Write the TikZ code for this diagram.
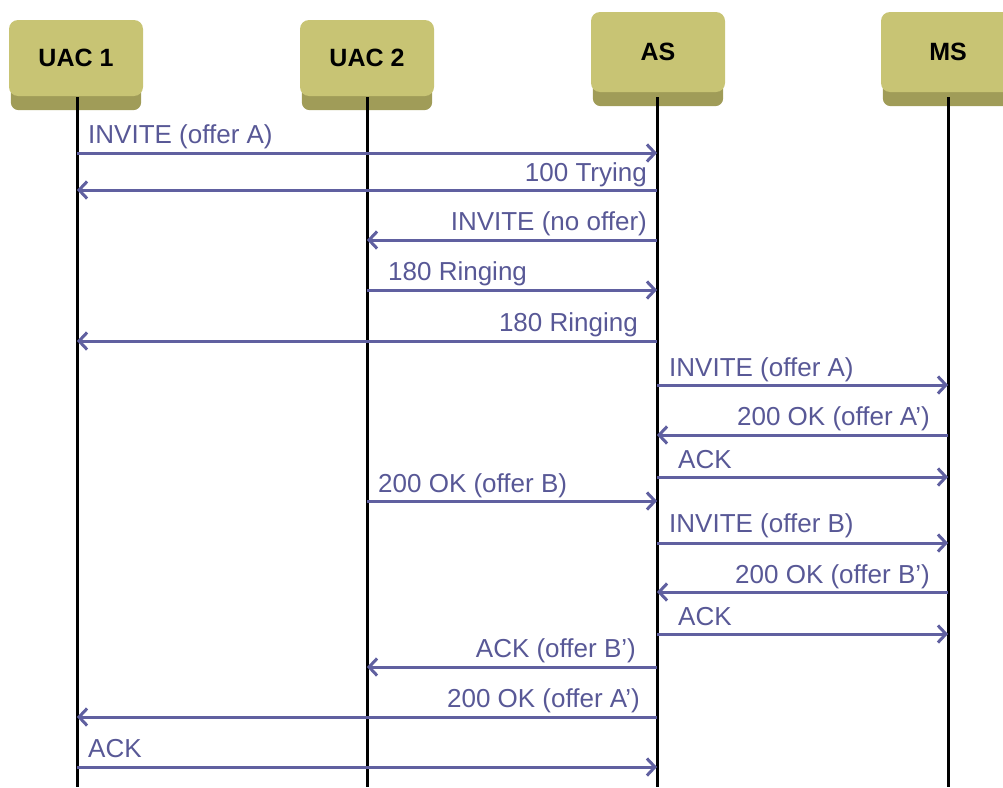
\documentclass[tikz,border=0pt]{standalone}
\usepackage{fontspec}
\setmainfont{Liberation Sans}
\usetikzlibrary{arrows.meta,backgrounds}
\definecolor{face}{RGB}{200,196,116}
\definecolor{base}{RGB}{160,156,88}
\definecolor{msgc}{RGB}{96,96,160}
\definecolor{txtc}{RGB}{88,88,150}
\tikzset{
  actor/.style={fill=face, rounded corners=9pt, minimum width=134pt, inner sep=0pt,
    font=\fontsize{25}{28}\selectfont\bfseries, text=black},
  life/.style={line width=3pt, black},
  msg/.style={line width=3pt, msgc, -{Straight Barb[length=8pt,width=17pt]}},
  lblL/.style={anchor=base west, text=txtc, font=\fontsize{26}{29}\selectfont, inner sep=0pt},
  lblR/.style={anchor=base east, text=txtc, font=\fontsize{26}{29}\selectfont, inner sep=0pt},
}
\begin{document}
\begin{tikzpicture}[x=1pt,y=-1pt]
\useasboundingbox (0,0) rectangle (1003,787);
\clip (0,0) rectangle (1003,787);
% actors
\node[actor, minimum height=76pt] (uac1) at (76,58) {UAC 1};
\node[actor, minimum height=76pt] (uac2) at (367,58) {UAC 2};
\node[actor, minimum height=80pt] (as) at (658,52) {AS};
\node[actor, minimum height=80pt] (ms) at (948,52) {MS};
\begin{scope}[on background layer]
  \foreach \n in {uac1,uac2,as,ms}{
    \fill[base, rounded corners=8pt] ([xshift=2pt,yshift=16pt]\n.south west) rectangle ([xshift=-2pt,yshift=-14pt]\n.south east);
  }
\end{scope}
% lifelines
\coordinate (e1) at (77,787);
\coordinate (e2) at (367,787);
\coordinate (e3) at (657,787);
\coordinate (e4) at (948,787);
\coordinate (s1) at (77,97);
\coordinate (s2) at (367,97);
\coordinate (s3) at (657,97);
\coordinate (s4) at (948,97);
\draw[life] (s1) -- (e1);
\draw[life] (s2) -- (e2);
\draw[life] (s3) -- (e3);
\draw[life] (s4) -- (e4);
% messages
\draw[msg] (s1 |- 0,153) -- (s3 |- 0,153);
\node[lblL] (t1) at (88,143) {INVITE (offer A)};
\draw[msg] (s3 |- 0,190) -- (s1 |- 0,190);
\node[lblR] (t2) at (647,181) {100 Trying};
\draw[msg] (s3 |- 0,240) -- (s2 |- 0,240);
\node[lblR] (t3) at (647,230) {INVITE (no offer)};
\draw[msg] (s2 |- 0,290) -- (s3 |- 0,290);
\node[lblL] (t4) at (388,280) {180 Ringing};
\draw[msg] (s3 |- 0,341) -- (s1 |- 0,341);
\node[lblR] (t5) at (638,331) {180 Ringing};
\draw[msg] (s3 |- 0,385) -- (s4 |- 0,385);
\node[lblL] (t6) at (669,376) {INVITE (offer A)};
\draw[msg] (s4 |- 0,435) -- (s3 |- 0,435);
\node[lblR] (t7) at (930,425) {200 OK (offer A’)};
\draw[msg] (s3 |- 0,477) -- (s4 |- 0,477);
\node[lblL] (t8) at (678,468) {ACK};
\draw[msg] (s2 |- 0,501) -- (s3 |- 0,501);
\node[lblL] (t9) at (378,492) {200 OK (offer B)};
\draw[msg] (s3 |- 0,543) -- (s4 |- 0,543);
\node[lblL] (t10) at (669,532) {INVITE (offer B)};
\draw[msg] (s4 |- 0,592) -- (s3 |- 0,592);
\node[lblR] (t11) at (930,583) {200 OK (offer B’)};
\draw[msg] (s3 |- 0,634) -- (s4 |- 0,634);
\node[lblL] (t12) at (678,625) {ACK};
\draw[msg] (s3 |- 0,667) -- (s2 |- 0,667);
\node[lblR] (t13) at (636,657) {ACK (offer B’)};
\draw[msg] (s3 |- 0,717) -- (s1 |- 0,717);
\node[lblR] (t14) at (640,707) {200 OK (offer A’)};
\draw[msg] (s1 |- 0,767) -- (s3 |- 0,767);
\node[lblL] (t15) at (88,757) {ACK};
\end{tikzpicture}
\end{document}
